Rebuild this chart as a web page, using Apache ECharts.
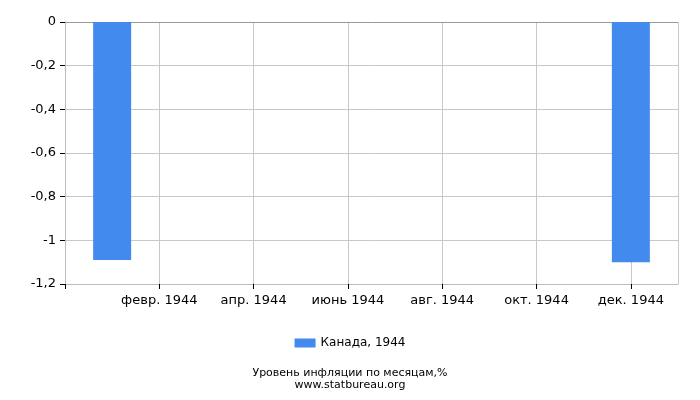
<!DOCTYPE html>
<html>
<head>
<meta charset="utf-8">
<script src="https://cdn.jsdelivr.net/npm/echarts@6/dist/echarts.min.js"></script>
<style>html,body{margin:0;padding:0;background:#fff}#c{width:700px;height:400px}</style>
</head>
<body>
<div id="c"></div>
<script>
// Categories: padding slot before January and after December (axis runs Dec 1943 .. Jan 1945)
const categories = ['', 'янв. 1944', 'февр. 1944', 'март 1944', 'апр. 1944', 'май 1944', 'июнь 1944',
  'июль 1944', 'авг. 1944', 'сент. 1944', 'окт. 1944', 'нояб. 1944', 'дек. 1944', ''];
const canadaValues = [null, -1.09, null, null, null, null, null, null, null, null, null, null, -1.1, null];
const seriesName = 'Канада, 1944';
const yMin = -1.2, yMax = 0, yStep = 0.2;
const titleLines = ['Уровень инфляции по месяцам,%', 'www.statbureau.org'];

const FONT = 'DejaVu Sans';
const chart = echarts.init(document.getElementById('c'), null, {renderer: 'canvas'});
chart.setOption({
  animation: false,
  textStyle: {fontFamily: FONT},
  grid: {left: 65, right: 22, top: 22, bottom: 116, containLabel: false},
  legend: {
    data: [{name: seriesName, icon: 'rect'}], left: 'center', top: 332, itemWidth: 21, itemHeight: 9, itemGap: 4,
    textStyle: {fontFamily: FONT, fontSize: 12, color: '#000'}, selectedMode: false
  },
  title: {
    text: titleLines.join('\n'), left: 'center', top: 362,
    textStyle: {fontFamily: FONT, fontSize: 11, fontWeight: 'normal', color: '#000', lineHeight: 12}
  },
  xAxis: {
    type: 'category', data: categories, boundaryGap: false,
    axisLine: {show: true, onZero: false, lineStyle: {color: '#bdbdbd', width: 1}},
    axisTick: {show: true, length: 5, lineStyle: {color: '#000'}, interval: (i) => i % 2 === 0 && i < 13},
    axisLabel: {fontFamily: FONT, fontSize: 13, color: '#000', margin: 10,
      interval: (i) => i % 2 === 0 && i > 0 && i < 13},
    splitLine: {show: true, lineStyle: {color: '#c8c8c8', width: 1}, interval: (i) => (i % 2 === 0 && i > 0) || i === 13}
  },
  yAxis: {
    type: 'value', min: yMin, max: yMax, interval: yStep,
    axisLine: {show: true, lineStyle: {color: '#bdbdbd', width: 1}},
    axisTick: {show: true, length: 5, lineStyle: {color: '#000'}},
    axisLabel: {fontFamily: FONT, fontSize: 13, color: '#000', margin: 9,
      formatter: (v) => String(Math.round(v * 10) / 10).replace('.', ',')},
    splitLine: {show: true, lineStyle: {color: '#c8c8c8', width: 1}}
  },
  series: [{
    name: seriesName, type: 'bar', data: canadaValues, barWidth: 38, z: 3,
    itemStyle: {color: '#428AEE'},
    markLine: {silent: true, symbol: 'none', z: 1, label: {show: false},
      lineStyle: {color: '#999', width: 1, type: 'solid'}, data: [{yAxis: 0}]}
  }]
});
</script>
</body>
</html>
